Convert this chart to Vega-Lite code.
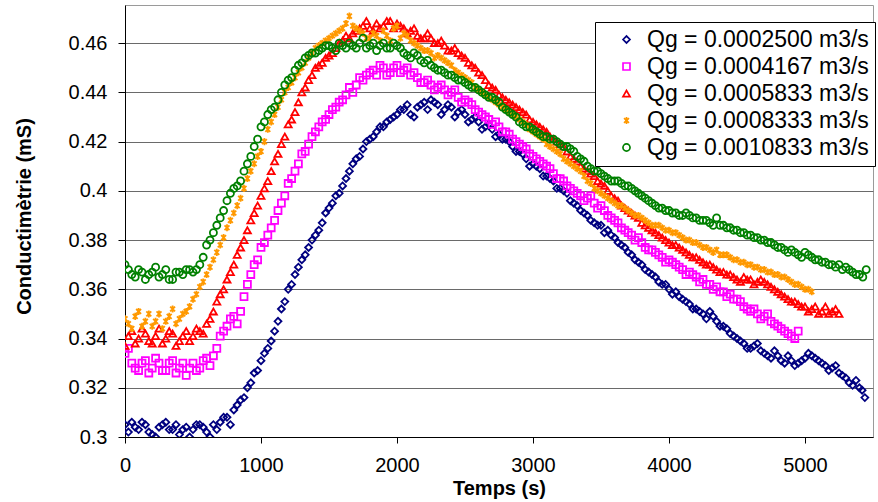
{
"$schema": "https://vega.github.io/schema/vega-lite/v6.json",
"width": 748, "height": 432,
"autosize": "none",
"padding": {"left": 125, "top": 5, "right": 5, "bottom": 65},
"background": "white",
"config": {"view": {"stroke": "#9a9a9a"}, "font": "Liberation Sans"},
"data": {"values": [
{"k":"A","t":0,"c":0.305},{"k":"A","t":50,"c":0.306},{"k":"A","t":100,"c":0.303},{"k":"A","t":150,"c":0.305},{"k":"A","t":200,"c":0.301},{"k":"A","t":250,"c":0.304},{"k":"A","t":300,"c":0.306},{"k":"A","t":350,"c":0.303},{"k":"A","t":400,"c":0.301},{"k":"A","t":450,"c":0.304},
{"k":"A","t":500,"c":0.303},{"k":"A","t":550,"c":0.305},{"k":"A","t":600,"c":0.302},{"k":"A","t":650,"c":0.305},{"k":"A","t":700,"c":0.306},{"k":"A","t":750,"c":0.308},{"k":"A","t":800,"c":0.311},{"k":"A","t":850,"c":0.315},{"k":"A","t":900,"c":0.320},{"k":"A","t":950,"c":0.326},
{"k":"A","t":1000,"c":0.331},{"k":"A","t":1050,"c":0.336},{"k":"A","t":1100,"c":0.343},{"k":"A","t":1150,"c":0.352},{"k":"A","t":1200,"c":0.360},{"k":"A","t":1250,"c":0.366},{"k":"A","t":1300,"c":0.372},{"k":"A","t":1350,"c":0.377},{"k":"A","t":1400,"c":0.382},{"k":"A","t":1450,"c":0.387},
{"k":"A","t":1500,"c":0.393},{"k":"A","t":1550,"c":0.398},{"k":"A","t":1600,"c":0.402},{"k":"A","t":1650,"c":0.408},{"k":"A","t":1700,"c":0.413},{"k":"A","t":1750,"c":0.417},{"k":"A","t":1800,"c":0.421},{"k":"A","t":1850,"c":0.424},{"k":"A","t":1900,"c":0.426},{"k":"A","t":1950,"c":0.429},
{"k":"A","t":2000,"c":0.431},{"k":"A","t":2050,"c":0.433},{"k":"A","t":2100,"c":0.431},{"k":"A","t":2150,"c":0.434},{"k":"A","t":2200,"c":0.436},{"k":"A","t":2250,"c":0.437},{"k":"A","t":2300,"c":0.435},{"k":"A","t":2350,"c":0.433},{"k":"A","t":2400,"c":0.434},{"k":"A","t":2450,"c":0.432},
{"k":"A","t":2500,"c":0.431},{"k":"A","t":2550,"c":0.429},{"k":"A","t":2600,"c":0.428},{"k":"A","t":2650,"c":0.426},{"k":"A","t":2700,"c":0.425},{"k":"A","t":2750,"c":0.423},{"k":"A","t":2800,"c":0.421},{"k":"A","t":2850,"c":0.418},{"k":"A","t":2900,"c":0.416},{"k":"A","t":2950,"c":0.413},
{"k":"A","t":3000,"c":0.411},{"k":"A","t":3050,"c":0.409},{"k":"A","t":3100,"c":0.406},{"k":"A","t":3150,"c":0.404},{"k":"A","t":3200,"c":0.401},{"k":"A","t":3250,"c":0.399},{"k":"A","t":3300,"c":0.395},{"k":"A","t":3350,"c":0.392},{"k":"A","t":3400,"c":0.390},{"k":"A","t":3450,"c":0.387},
{"k":"A","t":3500,"c":0.386},{"k":"A","t":3550,"c":0.384},{"k":"A","t":3600,"c":0.381},{"k":"A","t":3650,"c":0.378},{"k":"A","t":3700,"c":0.375},{"k":"A","t":3750,"c":0.372},{"k":"A","t":3800,"c":0.370},{"k":"A","t":3850,"c":0.367},{"k":"A","t":3900,"c":0.365},{"k":"A","t":3950,"c":0.362},
{"k":"A","t":4000,"c":0.360},{"k":"A","t":4050,"c":0.359},{"k":"A","t":4100,"c":0.356},{"k":"A","t":4150,"c":0.354},{"k":"A","t":4200,"c":0.352},{"k":"A","t":4250,"c":0.350},{"k":"A","t":4300,"c":0.351},{"k":"A","t":4350,"c":0.347},{"k":"A","t":4400,"c":0.345},{"k":"A","t":4450,"c":0.342},
{"k":"A","t":4500,"c":0.340},{"k":"A","t":4550,"c":0.338},{"k":"A","t":4600,"c":0.336},{"k":"A","t":4650,"c":0.338},{"k":"A","t":4700,"c":0.334},{"k":"A","t":4750,"c":0.332},{"k":"A","t":4800,"c":0.333},{"k":"A","t":4850,"c":0.330},{"k":"A","t":4900,"c":0.331},{"k":"A","t":4950,"c":0.330},
{"k":"A","t":5000,"c":0.332},{"k":"A","t":5050,"c":0.333},{"k":"A","t":5100,"c":0.331},{"k":"A","t":5150,"c":0.329},{"k":"A","t":5200,"c":0.328},{"k":"A","t":5250,"c":0.326},{"k":"A","t":5300,"c":0.324},{"k":"A","t":5350,"c":0.321},{"k":"A","t":5400,"c":0.320},{"k":"A","t":5440,"c":0.316},
{"k":"A","t":25,"c":0.302},{"k":"A","t":75,"c":0.304},{"k":"A","t":125,"c":0.306},{"k":"A","t":175,"c":0.302},{"k":"A","t":225,"c":0.300},{"k":"A","t":275,"c":0.305},{"k":"A","t":325,"c":0.303},{"k":"A","t":375,"c":0.305},{"k":"A","t":425,"c":0.303},{"k":"A","t":475,"c":0.300},
{"k":"A","t":525,"c":0.305},{"k":"A","t":575,"c":0.304},{"k":"A","t":625,"c":0.300},{"k":"A","t":675,"c":0.303},{"k":"A","t":725,"c":0.308},{"k":"A","t":775,"c":0.305},{"k":"A","t":825,"c":0.313},{"k":"A","t":875,"c":0.316},{"k":"A","t":925,"c":0.322},{"k":"A","t":975,"c":0.327},
{"k":"A","t":1025,"c":0.334},{"k":"A","t":1075,"c":0.339},{"k":"A","t":1125,"c":0.347},{"k":"A","t":1175,"c":0.355},{"k":"A","t":1225,"c":0.362},{"k":"A","t":1275,"c":0.369},{"k":"A","t":1325,"c":0.374},{"k":"A","t":1375,"c":0.380},{"k":"A","t":1425,"c":0.384},{"k":"A","t":1475,"c":0.391},
{"k":"A","t":1525,"c":0.395},{"k":"A","t":1575,"c":0.399},{"k":"A","t":1625,"c":0.405},{"k":"A","t":1675,"c":0.411},{"k":"A","t":1725,"c":0.414},{"k":"A","t":1775,"c":0.420},{"k":"A","t":1825,"c":0.422},{"k":"A","t":1875,"c":0.426},{"k":"A","t":1925,"c":0.428},{"k":"A","t":1975,"c":0.430},
{"k":"A","t":2025,"c":0.433},{"k":"A","t":2075,"c":0.435},{"k":"A","t":2125,"c":0.430},{"k":"A","t":2175,"c":0.435},{"k":"A","t":2225,"c":0.433},{"k":"A","t":2275,"c":0.436},{"k":"A","t":2325,"c":0.431},{"k":"A","t":2375,"c":0.435},{"k":"A","t":2425,"c":0.430},{"k":"A","t":2475,"c":0.433},
{"k":"A","t":2525,"c":0.428},{"k":"A","t":2575,"c":0.430},{"k":"A","t":2625,"c":0.425},{"k":"A","t":2675,"c":0.427},{"k":"A","t":2725,"c":0.422},{"k":"A","t":2775,"c":0.421},{"k":"A","t":2825,"c":0.420},{"k":"A","t":2875,"c":0.416},{"k":"A","t":2925,"c":0.415},{"k":"A","t":2975,"c":0.410},
{"k":"A","t":3025,"c":0.410},{"k":"A","t":3075,"c":0.406},{"k":"A","t":3125,"c":0.405},{"k":"A","t":3175,"c":0.401},{"k":"A","t":3225,"c":0.400},{"k":"A","t":3275,"c":0.396},{"k":"A","t":3325,"c":0.394},{"k":"A","t":3375,"c":0.391},{"k":"A","t":3425,"c":0.388},{"k":"A","t":3475,"c":0.386},
{"k":"A","t":3525,"c":0.383},{"k":"A","t":3575,"c":0.382},{"k":"A","t":3625,"c":0.379},{"k":"A","t":3675,"c":0.377},{"k":"A","t":3725,"c":0.374},{"k":"A","t":3775,"c":0.371},{"k":"A","t":3825,"c":0.368},{"k":"A","t":3875,"c":0.366},{"k":"A","t":3925,"c":0.363},{"k":"A","t":3975,"c":0.362},
{"k":"A","t":4025,"c":0.358},{"k":"A","t":4075,"c":0.357},{"k":"A","t":4125,"c":0.355},{"k":"A","t":4175,"c":0.352},{"k":"A","t":4225,"c":0.351},{"k":"A","t":4275,"c":0.348},{"k":"A","t":4325,"c":0.349},{"k":"A","t":4375,"c":0.345},{"k":"A","t":4425,"c":0.344},{"k":"A","t":4475,"c":0.341},
{"k":"A","t":4525,"c":0.339},{"k":"A","t":4575,"c":0.336},{"k":"A","t":4625,"c":0.337},{"k":"A","t":4675,"c":0.335},{"k":"A","t":4725,"c":0.333},{"k":"A","t":4775,"c":0.335},{"k":"A","t":4825,"c":0.331},{"k":"A","t":4875,"c":0.333},{"k":"A","t":4925,"c":0.329},{"k":"A","t":4975,"c":0.331},
{"k":"A","t":5025,"c":0.334},{"k":"A","t":5075,"c":0.332},{"k":"A","t":5125,"c":0.330},{"k":"A","t":5175,"c":0.327},{"k":"A","t":5225,"c":0.329},{"k":"A","t":5275,"c":0.325},{"k":"A","t":5325,"c":0.322},{"k":"A","t":5375,"c":0.323},{"k":"A","t":5420,"c":0.319},
{"k":"B","t":0,"c":0.334},{"k":"B","t":50,"c":0.330},{"k":"B","t":100,"c":0.327},{"k":"B","t":150,"c":0.331},{"k":"B","t":200,"c":0.328},{"k":"B","t":250,"c":0.330},{"k":"B","t":300,"c":0.327},{"k":"B","t":350,"c":0.331},{"k":"B","t":400,"c":0.328},{"k":"B","t":450,"c":0.325},
{"k":"B","t":500,"c":0.330},{"k":"B","t":550,"c":0.328},{"k":"B","t":600,"c":0.332},{"k":"B","t":650,"c":0.333},{"k":"B","t":700,"c":0.341},{"k":"B","t":750,"c":0.345},{"k":"B","t":800,"c":0.349},{"k":"B","t":850,"c":0.351},{"k":"B","t":900,"c":0.362},{"k":"B","t":950,"c":0.370},
{"k":"B","t":1000,"c":0.377},{"k":"B","t":1050,"c":0.382},{"k":"B","t":1100,"c":0.388},{"k":"B","t":1150,"c":0.395},{"k":"B","t":1200,"c":0.403},{"k":"B","t":1250,"c":0.408},{"k":"B","t":1300,"c":0.415},{"k":"B","t":1350,"c":0.419},{"k":"B","t":1400,"c":0.424},{"k":"B","t":1450,"c":0.428},
{"k":"B","t":1500,"c":0.431},{"k":"B","t":1550,"c":0.434},{"k":"B","t":1600,"c":0.437},{"k":"B","t":1650,"c":0.442},{"k":"B","t":1700,"c":0.443},{"k":"B","t":1750,"c":0.445},{"k":"B","t":1800,"c":0.448},{"k":"B","t":1850,"c":0.447},{"k":"B","t":1900,"c":0.450},{"k":"B","t":1950,"c":0.448},
{"k":"B","t":2000,"c":0.451},{"k":"B","t":2050,"c":0.449},{"k":"B","t":2100,"c":0.447},{"k":"B","t":2150,"c":0.446},{"k":"B","t":2200,"c":0.444},{"k":"B","t":2250,"c":0.443},{"k":"B","t":2300,"c":0.442},{"k":"B","t":2350,"c":0.441},{"k":"B","t":2400,"c":0.440},{"k":"B","t":2450,"c":0.438},
{"k":"B","t":2500,"c":0.437},{"k":"B","t":2550,"c":0.435},{"k":"B","t":2600,"c":0.432},{"k":"B","t":2650,"c":0.430},{"k":"B","t":2700,"c":0.427},{"k":"B","t":2750,"c":0.426},{"k":"B","t":2800,"c":0.424},{"k":"B","t":2850,"c":0.421},{"k":"B","t":2900,"c":0.419},{"k":"B","t":2950,"c":0.417},
{"k":"B","t":3000,"c":0.414},{"k":"B","t":3050,"c":0.412},{"k":"B","t":3100,"c":0.410},{"k":"B","t":3150,"c":0.407},{"k":"B","t":3200,"c":0.405},{"k":"B","t":3250,"c":0.402},{"k":"B","t":3300,"c":0.400},{"k":"B","t":3350,"c":0.398},{"k":"B","t":3400,"c":0.397},{"k":"B","t":3450,"c":0.395},
{"k":"B","t":3500,"c":0.394},{"k":"B","t":3550,"c":0.390},{"k":"B","t":3600,"c":0.388},{"k":"B","t":3650,"c":0.385},{"k":"B","t":3700,"c":0.383},{"k":"B","t":3750,"c":0.380},{"k":"B","t":3800,"c":0.379},{"k":"B","t":3850,"c":0.376},{"k":"B","t":3900,"c":0.375},{"k":"B","t":3950,"c":0.373},
{"k":"B","t":4000,"c":0.372},{"k":"B","t":4050,"c":0.370},{"k":"B","t":4100,"c":0.368},{"k":"B","t":4150,"c":0.367},{"k":"B","t":4200,"c":0.365},{"k":"B","t":4250,"c":0.364},{"k":"B","t":4300,"c":0.362},{"k":"B","t":4350,"c":0.361},{"k":"B","t":4400,"c":0.359},{"k":"B","t":4450,"c":0.358},
{"k":"B","t":4500,"c":0.356},{"k":"B","t":4550,"c":0.353},{"k":"B","t":4600,"c":0.351},{"k":"B","t":4650,"c":0.350},{"k":"B","t":4700,"c":0.349},{"k":"B","t":4750,"c":0.347},{"k":"B","t":4800,"c":0.345},{"k":"B","t":4850,"c":0.343},{"k":"B","t":4900,"c":0.341},{"k":"B","t":4950,"c":0.343},
{"k":"B","t":25,"c":0.336},{"k":"B","t":75,"c":0.328},{"k":"B","t":125,"c":0.330},{"k":"B","t":175,"c":0.326},{"k":"B","t":225,"c":0.332},{"k":"B","t":275,"c":0.327},{"k":"B","t":325,"c":0.330},{"k":"B","t":375,"c":0.326},{"k":"B","t":425,"c":0.330},{"k":"B","t":475,"c":0.328},
{"k":"B","t":525,"c":0.327},{"k":"B","t":575,"c":0.331},{"k":"B","t":625,"c":0.329},{"k":"B","t":675,"c":0.336},{"k":"B","t":725,"c":0.343},{"k":"B","t":775,"c":0.348},{"k":"B","t":825,"c":0.346},{"k":"B","t":875,"c":0.357},{"k":"B","t":925,"c":0.366},{"k":"B","t":975,"c":0.372},
{"k":"B","t":1025,"c":0.379},{"k":"B","t":1075,"c":0.385},{"k":"B","t":1125,"c":0.392},{"k":"B","t":1175,"c":0.398},{"k":"B","t":1225,"c":0.405},{"k":"B","t":1275,"c":0.411},{"k":"B","t":1325,"c":0.416},{"k":"B","t":1375,"c":0.422},{"k":"B","t":1425,"c":0.426},{"k":"B","t":1475,"c":0.429},
{"k":"B","t":1525,"c":0.433},{"k":"B","t":1575,"c":0.436},{"k":"B","t":1625,"c":0.439},{"k":"B","t":1675,"c":0.440},{"k":"B","t":1725,"c":0.446},{"k":"B","t":1775,"c":0.447},{"k":"B","t":1825,"c":0.449},{"k":"B","t":1875,"c":0.451},{"k":"B","t":1925,"c":0.447},{"k":"B","t":1975,"c":0.450},
{"k":"B","t":2025,"c":0.448},{"k":"B","t":2075,"c":0.450},{"k":"B","t":2125,"c":0.448},{"k":"B","t":2175,"c":0.444},{"k":"B","t":2225,"c":0.445},{"k":"B","t":2275,"c":0.441},{"k":"B","t":2325,"c":0.443},{"k":"B","t":2375,"c":0.439},{"k":"B","t":2425,"c":0.441},{"k":"B","t":2475,"c":0.436},
{"k":"B","t":2525,"c":0.436},{"k":"B","t":2575,"c":0.433},{"k":"B","t":2625,"c":0.431},{"k":"B","t":2675,"c":0.429},{"k":"B","t":2725,"c":0.428},{"k":"B","t":2775,"c":0.424},{"k":"B","t":2825,"c":0.423},{"k":"B","t":2875,"c":0.420},{"k":"B","t":2925,"c":0.418},{"k":"B","t":2975,"c":0.415},
{"k":"B","t":3025,"c":0.413},{"k":"B","t":3075,"c":0.411},{"k":"B","t":3125,"c":0.409},{"k":"B","t":3175,"c":0.405},{"k":"B","t":3225,"c":0.404},{"k":"B","t":3275,"c":0.401},{"k":"B","t":3325,"c":0.399},{"k":"B","t":3375,"c":0.396},{"k":"B","t":3425,"c":0.398},{"k":"B","t":3475,"c":0.393},
{"k":"B","t":3525,"c":0.392},{"k":"B","t":3575,"c":0.389},{"k":"B","t":3625,"c":0.387},{"k":"B","t":3675,"c":0.384},{"k":"B","t":3725,"c":0.382},{"k":"B","t":3775,"c":0.381},{"k":"B","t":3825,"c":0.377},{"k":"B","t":3875,"c":0.376},{"k":"B","t":3925,"c":0.374},{"k":"B","t":3975,"c":0.371},
{"k":"B","t":4025,"c":0.371},{"k":"B","t":4075,"c":0.369},{"k":"B","t":4125,"c":0.366},{"k":"B","t":4175,"c":0.366},{"k":"B","t":4225,"c":0.363},{"k":"B","t":4275,"c":0.362},{"k":"B","t":4325,"c":0.360},{"k":"B","t":4375,"c":0.359},{"k":"B","t":4425,"c":0.357},{"k":"B","t":4475,"c":0.356},
{"k":"B","t":4525,"c":0.355},{"k":"B","t":4575,"c":0.352},{"k":"B","t":4625,"c":0.352},{"k":"B","t":4675,"c":0.348},{"k":"B","t":4725,"c":0.350},{"k":"B","t":4775,"c":0.346},{"k":"B","t":4825,"c":0.344},{"k":"B","t":4875,"c":0.342},{"k":"B","t":4925,"c":0.340},
{"k":"C","t":0,"c":0.337},{"k":"C","t":50,"c":0.343},{"k":"C","t":100,"c":0.340},{"k":"C","t":150,"c":0.342},{"k":"C","t":200,"c":0.338},{"k":"C","t":250,"c":0.344},{"k":"C","t":300,"c":0.340},{"k":"C","t":350,"c":0.342},{"k":"C","t":400,"c":0.339},{"k":"C","t":450,"c":0.343},
{"k":"C","t":500,"c":0.341},{"k":"C","t":550,"c":0.343},{"k":"C","t":600,"c":0.346},{"k":"C","t":650,"c":0.351},{"k":"C","t":700,"c":0.358},{"k":"C","t":750,"c":0.364},{"k":"C","t":800,"c":0.370},{"k":"C","t":850,"c":0.377},{"k":"C","t":900,"c":0.384},{"k":"C","t":950,"c":0.391},
{"k":"C","t":1000,"c":0.398},{"k":"C","t":1050,"c":0.404},{"k":"C","t":1100,"c":0.412},{"k":"C","t":1150,"c":0.419},{"k":"C","t":1200,"c":0.427},{"k":"C","t":1250,"c":0.432},{"k":"C","t":1300,"c":0.440},{"k":"C","t":1350,"c":0.445},{"k":"C","t":1400,"c":0.450},{"k":"C","t":1450,"c":0.452},
{"k":"C","t":1500,"c":0.455},{"k":"C","t":1550,"c":0.458},{"k":"C","t":1600,"c":0.461},{"k":"C","t":1650,"c":0.462},{"k":"C","t":1700,"c":0.465},{"k":"C","t":1750,"c":0.467},{"k":"C","t":1800,"c":0.466},{"k":"C","t":1850,"c":0.468},{"k":"C","t":1900,"c":0.467},{"k":"C","t":1950,"c":0.469},
{"k":"C","t":2000,"c":0.468},{"k":"C","t":2050,"c":0.466},{"k":"C","t":2100,"c":0.465},{"k":"C","t":2150,"c":0.463},{"k":"C","t":2200,"c":0.462},{"k":"C","t":2250,"c":0.462},{"k":"C","t":2300,"c":0.460},{"k":"C","t":2350,"c":0.459},{"k":"C","t":2400,"c":0.457},{"k":"C","t":2450,"c":0.456},
{"k":"C","t":2500,"c":0.454},{"k":"C","t":2550,"c":0.451},{"k":"C","t":2600,"c":0.448},{"k":"C","t":2650,"c":0.445},{"k":"C","t":2700,"c":0.442},{"k":"C","t":2750,"c":0.439},{"k":"C","t":2800,"c":0.437},{"k":"C","t":2850,"c":0.435},{"k":"C","t":2900,"c":0.433},{"k":"C","t":2950,"c":0.431},
{"k":"C","t":3000,"c":0.428},{"k":"C","t":3050,"c":0.426},{"k":"C","t":3100,"c":0.424},{"k":"C","t":3150,"c":0.421},{"k":"C","t":3200,"c":0.419},{"k":"C","t":3250,"c":0.416},{"k":"C","t":3300,"c":0.413},{"k":"C","t":3350,"c":0.410},{"k":"C","t":3400,"c":0.408},{"k":"C","t":3450,"c":0.406},
{"k":"C","t":3500,"c":0.403},{"k":"C","t":3550,"c":0.400},{"k":"C","t":3600,"c":0.397},{"k":"C","t":3650,"c":0.394},{"k":"C","t":3700,"c":0.392},{"k":"C","t":3750,"c":0.390},{"k":"C","t":3800,"c":0.387},{"k":"C","t":3850,"c":0.385},{"k":"C","t":3900,"c":0.383},{"k":"C","t":3950,"c":0.381},
{"k":"C","t":4000,"c":0.379},{"k":"C","t":4050,"c":0.378},{"k":"C","t":4100,"c":0.376},{"k":"C","t":4150,"c":0.374},{"k":"C","t":4200,"c":0.373},{"k":"C","t":4250,"c":0.371},{"k":"C","t":4300,"c":0.370},{"k":"C","t":4350,"c":0.368},{"k":"C","t":4400,"c":0.367},{"k":"C","t":4450,"c":0.366},
{"k":"C","t":4500,"c":0.364},{"k":"C","t":4550,"c":0.365},{"k":"C","t":4600,"c":0.364},{"k":"C","t":4650,"c":0.363},{"k":"C","t":4700,"c":0.363},{"k":"C","t":4750,"c":0.361},{"k":"C","t":4800,"c":0.359},{"k":"C","t":4850,"c":0.357},{"k":"C","t":4900,"c":0.355},{"k":"C","t":4950,"c":0.354},
{"k":"C","t":5000,"c":0.353},{"k":"C","t":5050,"c":0.352},{"k":"C","t":5100,"c":0.350},{"k":"C","t":5150,"c":0.353},{"k":"C","t":5200,"c":0.351},{"k":"C","t":5250,"c":0.350},
{"k":"C","t":25,"c":0.341},{"k":"C","t":75,"c":0.338},{"k":"C","t":125,"c":0.344},{"k":"C","t":175,"c":0.339},{"k":"C","t":225,"c":0.341},{"k":"C","t":275,"c":0.338},{"k":"C","t":325,"c":0.343},{"k":"C","t":375,"c":0.337},{"k":"C","t":425,"c":0.341},{"k":"C","t":475,"c":0.339},
{"k":"C","t":525,"c":0.344},{"k":"C","t":575,"c":0.342},{"k":"C","t":625,"c":0.348},{"k":"C","t":675,"c":0.355},{"k":"C","t":725,"c":0.360},{"k":"C","t":775,"c":0.367},{"k":"C","t":825,"c":0.374},{"k":"C","t":875,"c":0.380},{"k":"C","t":925,"c":0.388},{"k":"C","t":975,"c":0.394},
{"k":"C","t":1025,"c":0.401},{"k":"C","t":1075,"c":0.408},{"k":"C","t":1125,"c":0.415},{"k":"C","t":1175,"c":0.422},{"k":"C","t":1225,"c":0.429},{"k":"C","t":1275,"c":0.436},{"k":"C","t":1325,"c":0.442},{"k":"C","t":1375,"c":0.447},{"k":"C","t":1425,"c":0.451},{"k":"C","t":1475,"c":0.454},
{"k":"C","t":1525,"c":0.456},{"k":"C","t":1575,"c":0.460},{"k":"C","t":1625,"c":0.463},{"k":"C","t":1675,"c":0.464},{"k":"C","t":1725,"c":0.466},{"k":"C","t":1775,"c":0.469},{"k":"C","t":1825,"c":0.465},{"k":"C","t":1875,"c":0.466},{"k":"C","t":1925,"c":0.469},{"k":"C","t":1975,"c":0.466},
{"k":"C","t":2025,"c":0.467},{"k":"C","t":2075,"c":0.464},{"k":"C","t":2125,"c":0.466},{"k":"C","t":2175,"c":0.462},{"k":"C","t":2225,"c":0.464},{"k":"C","t":2275,"c":0.460},{"k":"C","t":2325,"c":0.461},{"k":"C","t":2375,"c":0.457},{"k":"C","t":2425,"c":0.458},{"k":"C","t":2475,"c":0.455},
{"k":"C","t":2525,"c":0.452},{"k":"C","t":2575,"c":0.450},{"k":"C","t":2625,"c":0.447},{"k":"C","t":2675,"c":0.443},{"k":"C","t":2725,"c":0.441},{"k":"C","t":2775,"c":0.438},{"k":"C","t":2825,"c":0.436},{"k":"C","t":2875,"c":0.434},{"k":"C","t":2925,"c":0.432},{"k":"C","t":2975,"c":0.429},
{"k":"C","t":3025,"c":0.427},{"k":"C","t":3075,"c":0.425},{"k":"C","t":3125,"c":0.422},{"k":"C","t":3175,"c":0.420},{"k":"C","t":3225,"c":0.418},{"k":"C","t":3275,"c":0.414},{"k":"C","t":3325,"c":0.412},{"k":"C","t":3375,"c":0.409},{"k":"C","t":3425,"c":0.407},{"k":"C","t":3475,"c":0.404},
{"k":"C","t":3525,"c":0.402},{"k":"C","t":3575,"c":0.398},{"k":"C","t":3625,"c":0.396},{"k":"C","t":3675,"c":0.393},{"k":"C","t":3725,"c":0.391},{"k":"C","t":3775,"c":0.389},{"k":"C","t":3825,"c":0.386},{"k":"C","t":3875,"c":0.384},{"k":"C","t":3925,"c":0.382},{"k":"C","t":3975,"c":0.380},
{"k":"C","t":4025,"c":0.378},{"k":"C","t":4075,"c":0.377},{"k":"C","t":4125,"c":0.375},{"k":"C","t":4175,"c":0.373},{"k":"C","t":4225,"c":0.372},{"k":"C","t":4275,"c":0.370},{"k":"C","t":4325,"c":0.369},{"k":"C","t":4375,"c":0.367},{"k":"C","t":4425,"c":0.366},{"k":"C","t":4475,"c":0.365},
{"k":"C","t":4525,"c":0.363},{"k":"C","t":4575,"c":0.364},{"k":"C","t":4625,"c":0.362},{"k":"C","t":4675,"c":0.364},{"k":"C","t":4725,"c":0.362},{"k":"C","t":4775,"c":0.360},{"k":"C","t":4825,"c":0.358},{"k":"C","t":4875,"c":0.356},{"k":"C","t":4925,"c":0.355},{"k":"C","t":4975,"c":0.353},
{"k":"C","t":5025,"c":0.351},{"k":"C","t":5075,"c":0.353},{"k":"C","t":5125,"c":0.351},{"k":"C","t":5175,"c":0.350},{"k":"C","t":5225,"c":0.352},
{"k":"D","t":0,"c":0.348},{"k":"D","t":50,"c":0.344},{"k":"D","t":100,"c":0.351},{"k":"D","t":150,"c":0.347},{"k":"D","t":200,"c":0.345},{"k":"D","t":250,"c":0.350},{"k":"D","t":300,"c":0.347},{"k":"D","t":350,"c":0.352},{"k":"D","t":400,"c":0.348},{"k":"D","t":450,"c":0.351},
{"k":"D","t":500,"c":0.356},{"k":"D","t":550,"c":0.361},{"k":"D","t":600,"c":0.366},{"k":"D","t":650,"c":0.372},{"k":"D","t":700,"c":0.378},{"k":"D","t":750,"c":0.385},{"k":"D","t":800,"c":0.391},{"k":"D","t":850,"c":0.397},{"k":"D","t":900,"c":0.405},{"k":"D","t":950,"c":0.411},
{"k":"D","t":1000,"c":0.416},{"k":"D","t":1050,"c":0.425},{"k":"D","t":1100,"c":0.431},{"k":"D","t":1150,"c":0.437},{"k":"D","t":1200,"c":0.442},{"k":"D","t":1250,"c":0.446},{"k":"D","t":1300,"c":0.450},{"k":"D","t":1350,"c":0.454},{"k":"D","t":1400,"c":0.458},{"k":"D","t":1450,"c":0.460},
{"k":"D","t":1500,"c":0.462},{"k":"D","t":1550,"c":0.464},{"k":"D","t":1600,"c":0.466},{"k":"D","t":1650,"c":0.471},{"k":"D","t":1700,"c":0.466},{"k":"D","t":1750,"c":0.464},{"k":"D","t":1800,"c":0.462},{"k":"D","t":1850,"c":0.463},{"k":"D","t":1900,"c":0.465},{"k":"D","t":1950,"c":0.461},
{"k":"D","t":2000,"c":0.467},{"k":"D","t":2050,"c":0.464},{"k":"D","t":2100,"c":0.461},{"k":"D","t":2150,"c":0.459},{"k":"D","t":2200,"c":0.457},{"k":"D","t":2250,"c":0.456},{"k":"D","t":2300,"c":0.455},{"k":"D","t":2350,"c":0.453},{"k":"D","t":2400,"c":0.451},{"k":"D","t":2450,"c":0.448},
{"k":"D","t":2500,"c":0.446},{"k":"D","t":2550,"c":0.444},{"k":"D","t":2600,"c":0.441},{"k":"D","t":2650,"c":0.439},{"k":"D","t":2700,"c":0.437},{"k":"D","t":2750,"c":0.435},{"k":"D","t":2800,"c":0.433},{"k":"D","t":2850,"c":0.431},{"k":"D","t":2900,"c":0.429},{"k":"D","t":2950,"c":0.427},
{"k":"D","t":3000,"c":0.424},{"k":"D","t":3050,"c":0.422},{"k":"D","t":3100,"c":0.419},{"k":"D","t":3150,"c":0.417},{"k":"D","t":3200,"c":0.415},{"k":"D","t":3250,"c":0.412},{"k":"D","t":3300,"c":0.410},{"k":"D","t":3350,"c":0.408},{"k":"D","t":3400,"c":0.404},{"k":"D","t":3450,"c":0.401},
{"k":"D","t":3500,"c":0.399},{"k":"D","t":3550,"c":0.397},{"k":"D","t":3600,"c":0.395},{"k":"D","t":3650,"c":0.394},{"k":"D","t":3700,"c":0.392},{"k":"D","t":3750,"c":0.390},{"k":"D","t":3800,"c":0.389},{"k":"D","t":3850,"c":0.387},{"k":"D","t":3900,"c":0.386},{"k":"D","t":3950,"c":0.385},
{"k":"D","t":4000,"c":0.384},{"k":"D","t":4050,"c":0.383},{"k":"D","t":4100,"c":0.381},{"k":"D","t":4150,"c":0.380},{"k":"D","t":4200,"c":0.379},{"k":"D","t":4250,"c":0.377},{"k":"D","t":4300,"c":0.376},{"k":"D","t":4350,"c":0.376},{"k":"D","t":4400,"c":0.374},{"k":"D","t":4450,"c":0.373},
{"k":"D","t":4500,"c":0.372},{"k":"D","t":4550,"c":0.371},{"k":"D","t":4600,"c":0.370},{"k":"D","t":4650,"c":0.369},{"k":"D","t":4700,"c":0.368},{"k":"D","t":4750,"c":0.367},{"k":"D","t":4800,"c":0.366},{"k":"D","t":4850,"c":0.365},{"k":"D","t":4900,"c":0.363},{"k":"D","t":4950,"c":0.362},
{"k":"D","t":5000,"c":0.360},{"k":"D","t":5050,"c":0.359},
{"k":"D","t":25,"c":0.346},{"k":"D","t":75,"c":0.349},{"k":"D","t":125,"c":0.345},{"k":"D","t":175,"c":0.350},{"k":"D","t":225,"c":0.347},{"k":"D","t":275,"c":0.344},{"k":"D","t":325,"c":0.349},{"k":"D","t":375,"c":0.346},{"k":"D","t":425,"c":0.350},{"k":"D","t":475,"c":0.353},
{"k":"D","t":525,"c":0.358},{"k":"D","t":575,"c":0.363},{"k":"D","t":625,"c":0.369},{"k":"D","t":675,"c":0.375},{"k":"D","t":725,"c":0.381},{"k":"D","t":775,"c":0.388},{"k":"D","t":825,"c":0.394},{"k":"D","t":875,"c":0.401},{"k":"D","t":925,"c":0.408},{"k":"D","t":975,"c":0.414},
{"k":"D","t":1025,"c":0.420},{"k":"D","t":1075,"c":0.428},{"k":"D","t":1125,"c":0.434},{"k":"D","t":1175,"c":0.440},{"k":"D","t":1225,"c":0.444},{"k":"D","t":1275,"c":0.448},{"k":"D","t":1325,"c":0.452},{"k":"D","t":1375,"c":0.456},{"k":"D","t":1425,"c":0.459},{"k":"D","t":1475,"c":0.461},
{"k":"D","t":1525,"c":0.463},{"k":"D","t":1575,"c":0.465},{"k":"D","t":1625,"c":0.468},{"k":"D","t":1675,"c":0.467},{"k":"D","t":1725,"c":0.465},{"k":"D","t":1775,"c":0.462},{"k":"D","t":1825,"c":0.464},{"k":"D","t":1875,"c":0.461},{"k":"D","t":1925,"c":0.463},{"k":"D","t":1975,"c":0.466},
{"k":"D","t":2025,"c":0.462},{"k":"D","t":2075,"c":0.463},{"k":"D","t":2125,"c":0.460},{"k":"D","t":2175,"c":0.458},{"k":"D","t":2225,"c":0.457},{"k":"D","t":2275,"c":0.454},{"k":"D","t":2325,"c":0.454},{"k":"D","t":2375,"c":0.452},{"k":"D","t":2425,"c":0.449},{"k":"D","t":2475,"c":0.447},
{"k":"D","t":2525,"c":0.445},{"k":"D","t":2575,"c":0.442},{"k":"D","t":2625,"c":0.440},{"k":"D","t":2675,"c":0.438},{"k":"D","t":2725,"c":0.436},{"k":"D","t":2775,"c":0.434},{"k":"D","t":2825,"c":0.432},{"k":"D","t":2875,"c":0.430},{"k":"D","t":2925,"c":0.428},{"k":"D","t":2975,"c":0.425},
{"k":"D","t":3025,"c":0.423},{"k":"D","t":3075,"c":0.421},{"k":"D","t":3125,"c":0.418},{"k":"D","t":3175,"c":0.416},{"k":"D","t":3225,"c":0.413},{"k":"D","t":3275,"c":0.411},{"k":"D","t":3325,"c":0.409},{"k":"D","t":3375,"c":0.406},{"k":"D","t":3425,"c":0.403},{"k":"D","t":3475,"c":0.400},
{"k":"D","t":3525,"c":0.398},{"k":"D","t":3575,"c":0.396},{"k":"D","t":3625,"c":0.394},{"k":"D","t":3675,"c":0.393},{"k":"D","t":3725,"c":0.391},{"k":"D","t":3775,"c":0.390},{"k":"D","t":3825,"c":0.388},{"k":"D","t":3875,"c":0.386},{"k":"D","t":3925,"c":0.386},{"k":"D","t":3975,"c":0.384},
{"k":"D","t":4025,"c":0.383},{"k":"D","t":4075,"c":0.382},{"k":"D","t":4125,"c":0.380},{"k":"D","t":4175,"c":0.379},{"k":"D","t":4225,"c":0.378},{"k":"D","t":4275,"c":0.377},{"k":"D","t":4325,"c":0.375},{"k":"D","t":4375,"c":0.374},{"k":"D","t":4425,"c":0.374},{"k":"D","t":4475,"c":0.372},
{"k":"D","t":4525,"c":0.371},{"k":"D","t":4575,"c":0.370},{"k":"D","t":4625,"c":0.369},{"k":"D","t":4675,"c":0.368},{"k":"D","t":4725,"c":0.367},{"k":"D","t":4775,"c":0.366},{"k":"D","t":4825,"c":0.365},{"k":"D","t":4875,"c":0.364},{"k":"D","t":4925,"c":0.362},{"k":"D","t":4975,"c":0.361},
{"k":"D","t":5025,"c":0.360},
{"k":"E","t":0,"c":0.370},{"k":"E","t":50,"c":0.366},{"k":"E","t":100,"c":0.368},{"k":"E","t":150,"c":0.364},{"k":"E","t":200,"c":0.367},{"k":"E","t":250,"c":0.365},{"k":"E","t":300,"c":0.368},{"k":"E","t":350,"c":0.364},{"k":"E","t":400,"c":0.367},{"k":"E","t":450,"c":0.368},
{"k":"E","t":500,"c":0.367},{"k":"E","t":550,"c":0.370},{"k":"E","t":600,"c":0.378},{"k":"E","t":650,"c":0.383},{"k":"E","t":700,"c":0.389},{"k":"E","t":750,"c":0.396},{"k":"E","t":800,"c":0.401},{"k":"E","t":850,"c":0.404},{"k":"E","t":900,"c":0.411},{"k":"E","t":950,"c":0.418},
{"k":"E","t":1000,"c":0.426},{"k":"E","t":1050,"c":0.431},{"k":"E","t":1100,"c":0.434},{"k":"E","t":1150,"c":0.440},{"k":"E","t":1200,"c":0.445},{"k":"E","t":1250,"c":0.449},{"k":"E","t":1300,"c":0.452},{"k":"E","t":1350,"c":0.455},{"k":"E","t":1400,"c":0.456},{"k":"E","t":1450,"c":0.458},
{"k":"E","t":1500,"c":0.459},{"k":"E","t":1550,"c":0.457},{"k":"E","t":1600,"c":0.459},{"k":"E","t":1650,"c":0.460},{"k":"E","t":1700,"c":0.458},{"k":"E","t":1750,"c":0.462},{"k":"E","t":1800,"c":0.459},{"k":"E","t":1850,"c":0.457},{"k":"E","t":1900,"c":0.460},{"k":"E","t":1950,"c":0.458},
{"k":"E","t":2000,"c":0.459},{"k":"E","t":2050,"c":0.456},{"k":"E","t":2100,"c":0.454},{"k":"E","t":2150,"c":0.455},{"k":"E","t":2200,"c":0.452},{"k":"E","t":2250,"c":0.451},{"k":"E","t":2300,"c":0.449},{"k":"E","t":2350,"c":0.448},{"k":"E","t":2400,"c":0.447},{"k":"E","t":2450,"c":0.445},
{"k":"E","t":2500,"c":0.444},{"k":"E","t":2550,"c":0.442},{"k":"E","t":2600,"c":0.441},{"k":"E","t":2650,"c":0.439},{"k":"E","t":2700,"c":0.438},{"k":"E","t":2750,"c":0.436},{"k":"E","t":2800,"c":0.433},{"k":"E","t":2850,"c":0.431},{"k":"E","t":2900,"c":0.428},{"k":"E","t":2950,"c":0.426},
{"k":"E","t":3000,"c":0.425},{"k":"E","t":3050,"c":0.423},{"k":"E","t":3100,"c":0.422},{"k":"E","t":3150,"c":0.421},{"k":"E","t":3200,"c":0.419},{"k":"E","t":3250,"c":0.418},{"k":"E","t":3300,"c":0.416},{"k":"E","t":3350,"c":0.413},{"k":"E","t":3400,"c":0.410},{"k":"E","t":3450,"c":0.408},
{"k":"E","t":3500,"c":0.407},{"k":"E","t":3550,"c":0.405},{"k":"E","t":3600,"c":0.404},{"k":"E","t":3650,"c":0.403},{"k":"E","t":3700,"c":0.402},{"k":"E","t":3750,"c":0.400},{"k":"E","t":3800,"c":0.398},{"k":"E","t":3850,"c":0.396},{"k":"E","t":3900,"c":0.394},{"k":"E","t":3950,"c":0.393},
{"k":"E","t":4000,"c":0.392},{"k":"E","t":4050,"c":0.391},{"k":"E","t":4100,"c":0.390},{"k":"E","t":4150,"c":0.390},{"k":"E","t":4200,"c":0.389},{"k":"E","t":4250,"c":0.388},{"k":"E","t":4300,"c":0.387},{"k":"E","t":4350,"c":0.389},{"k":"E","t":4400,"c":0.386},{"k":"E","t":4450,"c":0.385},
{"k":"E","t":4500,"c":0.384},{"k":"E","t":4550,"c":0.383},{"k":"E","t":4600,"c":0.382},{"k":"E","t":4650,"c":0.381},{"k":"E","t":4700,"c":0.380},{"k":"E","t":4750,"c":0.379},{"k":"E","t":4800,"c":0.377},{"k":"E","t":4850,"c":0.376},{"k":"E","t":4900,"c":0.376},{"k":"E","t":4950,"c":0.374},
{"k":"E","t":5000,"c":0.375},{"k":"E","t":5050,"c":0.373},{"k":"E","t":5100,"c":0.372},{"k":"E","t":5150,"c":0.371},{"k":"E","t":5200,"c":0.370},{"k":"E","t":5250,"c":0.370},{"k":"E","t":5300,"c":0.369},{"k":"E","t":5350,"c":0.367},{"k":"E","t":5400,"c":0.366},{"k":"E","t":5450,"c":0.368},
{"k":"E","t":25,"c":0.368},{"k":"E","t":75,"c":0.365},{"k":"E","t":125,"c":0.367},{"k":"E","t":175,"c":0.366},{"k":"E","t":225,"c":0.369},{"k":"E","t":275,"c":0.366},{"k":"E","t":325,"c":0.364},{"k":"E","t":375,"c":0.367},{"k":"E","t":425,"c":0.366},{"k":"E","t":475,"c":0.368},
{"k":"E","t":525,"c":0.368},{"k":"E","t":575,"c":0.373},{"k":"E","t":625,"c":0.380},{"k":"E","t":675,"c":0.386},{"k":"E","t":725,"c":0.392},{"k":"E","t":775,"c":0.399},{"k":"E","t":825,"c":0.402},{"k":"E","t":875,"c":0.408},{"k":"E","t":925,"c":0.414},{"k":"E","t":975,"c":0.421},
{"k":"E","t":1025,"c":0.428},{"k":"E","t":1075,"c":0.433},{"k":"E","t":1125,"c":0.437},{"k":"E","t":1175,"c":0.443},{"k":"E","t":1225,"c":0.446},{"k":"E","t":1275,"c":0.451},{"k":"E","t":1325,"c":0.454},{"k":"E","t":1375,"c":0.456},{"k":"E","t":1425,"c":0.457},{"k":"E","t":1475,"c":0.459},
{"k":"E","t":1525,"c":0.458},{"k":"E","t":1575,"c":0.460},{"k":"E","t":1625,"c":0.458},{"k":"E","t":1675,"c":0.459},{"k":"E","t":1725,"c":0.460},{"k":"E","t":1775,"c":0.458},{"k":"E","t":1825,"c":0.460},{"k":"E","t":1875,"c":0.459},{"k":"E","t":1925,"c":0.458},{"k":"E","t":1975,"c":0.460},
{"k":"E","t":2025,"c":0.458},{"k":"E","t":2075,"c":0.455},{"k":"E","t":2125,"c":0.456},{"k":"E","t":2175,"c":0.453},{"k":"E","t":2225,"c":0.453},{"k":"E","t":2275,"c":0.450},{"k":"E","t":2325,"c":0.449},{"k":"E","t":2375,"c":0.447},{"k":"E","t":2425,"c":0.446},{"k":"E","t":2475,"c":0.445},
{"k":"E","t":2525,"c":0.443},{"k":"E","t":2575,"c":0.442},{"k":"E","t":2625,"c":0.440},{"k":"E","t":2675,"c":0.438},{"k":"E","t":2725,"c":0.437},{"k":"E","t":2775,"c":0.434},{"k":"E","t":2825,"c":0.432},{"k":"E","t":2875,"c":0.430},{"k":"E","t":2925,"c":0.427},{"k":"E","t":2975,"c":0.426},
{"k":"E","t":3025,"c":0.424},{"k":"E","t":3075,"c":0.422},{"k":"E","t":3125,"c":0.421},{"k":"E","t":3175,"c":0.420},{"k":"E","t":3225,"c":0.418},{"k":"E","t":3275,"c":0.417},{"k":"E","t":3325,"c":0.414},{"k":"E","t":3375,"c":0.412},{"k":"E","t":3425,"c":0.409},{"k":"E","t":3475,"c":0.408},
{"k":"E","t":3525,"c":0.406},{"k":"E","t":3575,"c":0.404},{"k":"E","t":3625,"c":0.404},{"k":"E","t":3675,"c":0.402},{"k":"E","t":3725,"c":0.401},{"k":"E","t":3775,"c":0.399},{"k":"E","t":3825,"c":0.397},{"k":"E","t":3875,"c":0.395},{"k":"E","t":3925,"c":0.393},{"k":"E","t":3975,"c":0.392},
{"k":"E","t":4025,"c":0.391},{"k":"E","t":4075,"c":0.390},{"k":"E","t":4125,"c":0.391},{"k":"E","t":4175,"c":0.389},{"k":"E","t":4225,"c":0.388},{"k":"E","t":4275,"c":0.388},{"k":"E","t":4325,"c":0.386},{"k":"E","t":4375,"c":0.386},{"k":"E","t":4425,"c":0.385},{"k":"E","t":4475,"c":0.384},
{"k":"E","t":4525,"c":0.383},{"k":"E","t":4575,"c":0.382},{"k":"E","t":4625,"c":0.381},{"k":"E","t":4675,"c":0.380},{"k":"E","t":4725,"c":0.379},{"k":"E","t":4775,"c":0.378},{"k":"E","t":4825,"c":0.377},{"k":"E","t":4875,"c":0.375},{"k":"E","t":4925,"c":0.375},{"k":"E","t":4975,"c":0.373},
{"k":"E","t":5025,"c":0.374},{"k":"E","t":5075,"c":0.372},{"k":"E","t":5125,"c":0.371},{"k":"E","t":5175,"c":0.370},{"k":"E","t":5225,"c":0.369},{"k":"E","t":5275,"c":0.368},{"k":"E","t":5325,"c":0.368},{"k":"E","t":5375,"c":0.366},{"k":"E","t":5425,"c":0.365}
]},
"mark": {"type": "point", "filled": false, "strokeWidth": 1.8, "opacity": 1, "clip": true},
"encoding": {
  "x": {"field": "t", "type": "quantitative",
    "scale": {"domain": [0, 5500], "nice": false, "zero": false},
    "axis": {"values": [0, 1000, 2000, 3000, 4000, 5000], "format": "d", "grid": false, "domainColor": "#000000",
      "tickColor": "#000000", "tickSize": 6, "labelFontSize": 20, "labelColor": "#000000", "labelPadding": 12,
      "labelFont": "Liberation Sans", "labelFlush": false,
      "title": "Temps (s)", "titleFontSize": 20, "titleFontWeight": "bold", "titleColor": "#000000", "titlePadding": 3, "titleFont": "Liberation Sans"}},
  "y": {"field": "c", "type": "quantitative",
    "scale": {"domain": [0.3, 0.4755], "nice": false, "zero": false},
    "axis": {"values": [0.3, 0.32, 0.34, 0.36, 0.38, 0.4, 0.42, 0.44, 0.46], "format": ".2~f",
      "grid": true, "gridColor": "#6a6a6a", "domainColor": "#000000",
      "tickColor": "#000000", "tickSize": 7, "labelFontSize": 20, "labelColor": "#000000", "labelPadding": 11,
      "labelFont": "Liberation Sans", "labelFlush": false,
      "title": "Conductimètrie (mS)", "titleFontSize": 20, "titleFontWeight": "bold", "titleColor": "#000000",
      "titleFont": "Liberation Sans", "titleAngle": 270, "titleAlign": "center", "titleBaseline": "middle",
      "titleX": -101, "titleY": 211}},
  "color": {"field": "k", "type": "nominal",
    "scale": {"domain": ["A", "B", "C", "D", "E"], "range": ["#000080", "#FF00FF", "#FF0000", "#FF9900", "#008000"]},
    "legend": {"orient": "none", "legendX": 470, "legendY": 17, "title": null,
      "strokeColor": "#000000", "fillColor": "#ffffff", "padding": 6,
      "labelFontSize": 23, "labelFont": "Liberation Sans", "labelColor": "#000000", "labelLimit": 400,
      "symbolSize": 30, "symbolStrokeWidth": 1.7, "rowPadding": 3, "labelOffset": 9, "symbolOffset": 14,
      "labelExpr": "datum.value == 'A' ? 'Qg = 0.0002500 m3/s' : datum.value == 'B' ? 'Qg = 0.0004167 m3/s' : datum.value == 'C' ? 'Qg = 0.0005833 m3/s' : datum.value == 'D' ? 'Qg = 0.0008333 m3/s' : 'Qg = 0.0010833 m3/s'"}},
  "shape": {"field": "k", "type": "nominal",
    "scale": {"domain": ["A", "B", "C", "D", "E"], "range": ["diamond", "square", "triangle-up", "M-0.7,-0.7L0.7,0.7M-0.7,0.7L0.7,-0.7M0,-1L0,1", "circle"]}},
  "size": {"field": "k", "type": "nominal", "legend": null,
    "scale": {"domain": ["A", "B", "C", "D", "E"], "range": [48, 50, 66, 80, 52]}}
}
}
